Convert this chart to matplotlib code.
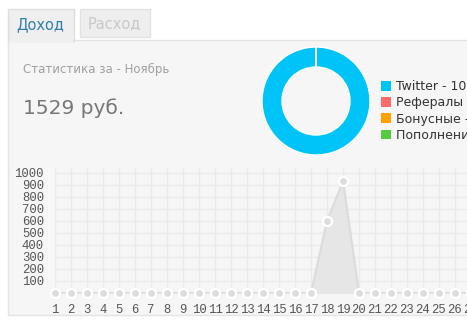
import numpy as np
import matplotlib
matplotlib.use('Agg')
import matplotlib.pyplot as plt
from matplotlib.patches import Rectangle, Patch

# dane
dni = list(range(1, 31))
dochod = [0] * 30
dochod[17] = 600   # 18 listopada
dochod[18] = 929   # 19 listopada
y_ticks = [100, 200, 300, 400, 500, 600, 700, 800, 900, 1000]

zrodla = ['Twitter - 100%', 'Рефералы - 0%', 'Бонусные - 0%', 'Пополнения - 0%']
udzialy = [100, 0, 0, 0]
kolory = ['#00c4f7', '#ff6b6b', '#ffa200', '#55cc3d']

tytul = 'Статистика за - Ноябрь'
suma = '1529 руб.'

W, H = 467, 328
fig = plt.figure(figsize=(W / 100, H / 100), dpi=100)
fig.patch.set_facecolor('white')

# tlo strony w pikselach
bg = fig.add_axes([0, 0, 1, 1])
bg.set_xlim(0, W)
bg.set_ylim(H, 0)
bg.axis('off')

# panel
bg.add_patch(Rectangle((8, 40), 500, 275, facecolor='#f6f6f6', edgecolor='#e4e4e4', lw=1))
# zakladki
bg.add_patch(Rectangle((8, 9), 66, 32, facecolor='#efefef', edgecolor='#dedede', lw=1))
bg.add_patch(Rectangle((9, 39), 64, 3, facecolor='#efefef', edgecolor='none'))
bg.add_patch(Rectangle((80, 9), 70, 28, facecolor='#eeeeee', edgecolor='#e2e2e2', lw=1))
bg.text(16, 25, 'Доход', fontsize=10.5, color='#2f7fab', va='center')
bg.text(88, 24, 'Расход', fontsize=10.5, color='#c8c8c8', va='center')

bg.text(23, 69, tytul, fontsize=8.5, color='#a0a0a0', va='center')
bg.text(23, 108, suma, fontsize=14.5, color='#777777', va='center')

# wykres liniowy
x0, x30 = 55, 55 + 29 * 16
ax = fig.add_axes([x0 / W, (H - 293) / H, (x30 - x0) / W, 125 / H])
ax.set_facecolor('#f6f6f6')
ax.fill_between(dni, dochod, 0, color='#e6e6e6', zorder=1)
ax.plot(dni, dochod, '-', color='#dcdcdc', lw=1.5, zorder=2)
ax.plot(dni, dochod, 'o', color='#dddddd', markersize=6.5, markeredgecolor='white',
        markeredgewidth=1.6, clip_on=False, zorder=3)
ax.set_xlim(1, 30)
ax.set_ylim(0, 1040)
ax.set_xticks(dni)
ax.set_yticks(y_ticks)
ax.grid(True, color='#ebebeb', lw=1)
ax.set_axisbelow(True)
for s in ax.spines.values():
    s.set_visible(False)
ax.tick_params(length=0, labelsize=8.8, labelcolor='#555555', pad=8)
ax.tick_params(axis='x', pad=8)
for lab in ax.get_xticklabels() + ax.get_yticklabels():
    lab.set_fontfamily('Liberation Mono')

# wykres kolowy (donut)
cx, cy, r = 316, 101, 54
pax = fig.add_axes([(cx - r) / W, (H - cy - r) / H, 2 * r / W, 2 * r / H])
pax.pie(udzialy, colors=kolory, startangle=90, counterclock=False, radius=1,
        wedgeprops=dict(width=20 / 54, edgecolor='white', linewidth=1))
pax.set_xlim(-1, 1)
pax.set_ylim(-1, 1)
pax.set_aspect('equal')

uchwyty = [Patch(facecolor=k, edgecolor='none') for k in kolory]
fig.legend(uchwyty, zrodla, loc='upper left', bbox_to_anchor=(375 / W, 1 - 74 / H),
           frameon=False, fontsize=9, handlelength=0.8, handleheight=0.8,
           handletextpad=0.35, labelspacing=0.25, borderpad=0, labelcolor='#333333')

fig.savefig('out.png', dpi=100, facecolor='white')
